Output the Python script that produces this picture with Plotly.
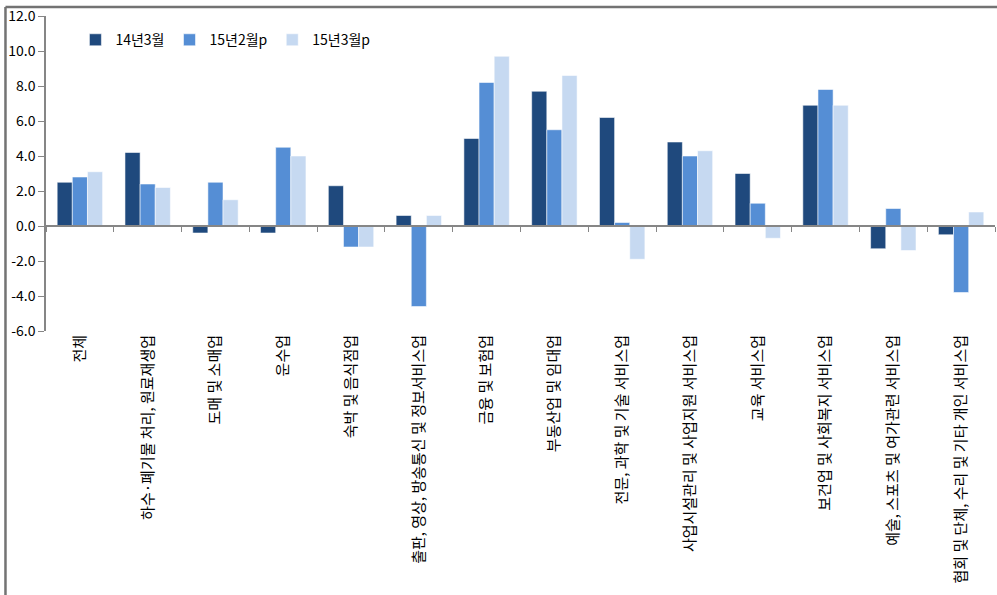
import plotly.graph_objects as go

# Industry categories (x axis)
categories = [
    "전체",
    "하수·폐기물 처리, 원료재생업",
    "도매 및 소매업",
    "운수업",
    "숙박 및 음식점업",
    "출판, 영상, 방송통신 및 정보서비스업",
    "금융 및 보험업",
    "부동산업 및 임대업",
    "전문, 과학 및 기술 서비스업",
    "사업시설관리 및 사업지원 서비스업",
    "교육 서비스업",
    "보건업 및 사회복지 서비스업",
    "예술, 스포츠 및 여가관련 서비스업",
    "협회 및 단체, 수리 및 기타 개인 서비스업",
]

# Year-on-year change (%) per period
series_names = ["14년3월", "15년2월p", "15년3월p"]
mar_2014 = [2.5, 4.2, -0.4, -0.4, 2.3, 0.6, 5.0, 7.7, 6.2, 4.8, 3.0, 6.9, -1.3, -0.5]
feb_2015 = [2.8, 2.4, 2.5, 4.5, -1.2, -4.6, 8.2, 5.5, 0.2, 4.0, 1.3, 7.8, 1.0, -3.8]
mar_2015 = [3.1, 2.2, 1.5, 4.0, -1.2, 0.6, 9.7, 8.6, -1.9, 4.3, -0.7, 6.9, -1.4, 0.8]

# Y axis ticks
y_ticks = [12.0, 10.0, 8.0, 6.0, 4.0, 2.0, 0.0, -2.0, -4.0, -6.0]
y_min, y_max = -6.0, 12.0

colors = ["#1F497D", "#558ED5", "#C6D9F1"]
font_family = "Noto Sans CJK KR, DejaVu Sans, sans-serif"
axis_gray = "#868686"

fig = go.Figure()
for name, vals, col in zip(series_names, [mar_2014, feb_2015, mar_2015], colors):
    fig.add_trace(go.Bar(
        name=name,
        x=categories,
        y=vals,
        marker=dict(color=col, line=dict(color="rgba(255,255,255,0.55)", width=1)),
        hoverinfo="x+y+name",
    ))

# empty helper trace so the bottom label axis is instantiated
fig.add_trace(go.Scatter(
    x=list(range(len(categories))),
    y=[None] * len(categories),
    xaxis="x2",
    yaxis="y",
    mode="markers",
    showlegend=False,
    hoverinfo="skip",
))

zero_pos = (0 - y_min) / (y_max - y_min)

fig.update_layout(
    width=997,
    height=595,
    margin=dict(l=46, r=2, t=16, b=264),
    paper_bgcolor="white",
    plot_bgcolor="white",
    barmode="group",
    bargap=0.33,
    bargroupgap=0,
    font=dict(family=font_family, size=13, color="#000000"),
    legend=dict(
        orientation="h",
        x=0.031,
        y=0.974,
        xanchor="left",
        yanchor="top",
        font=dict(size=14),
        bgcolor="rgba(0,0,0,0)",
        itemwidth=30,
    ),
    # category axis carrying the bars: line and boundary ticks at y = 0
    xaxis=dict(
        type="category",
        categoryorder="array",
        categoryarray=categories,
        range=[-0.5, len(categories) - 0.5],
        anchor="free",
        position=zero_pos,
        showline=True,
        linecolor=axis_gray,
        linewidth=1.5,
        ticks="outside",
        tickson="boundaries",
        ticklen=5,
        tickcolor=axis_gray,
        tickwidth=1,
        showticklabels=False,
        showgrid=False,
        zeroline=False,
    ),
    # label axis along the bottom edge of the plot area
    xaxis2=dict(
        overlaying="x",
        anchor="y",
        side="bottom",
        type="linear",
        range=[-0.5, len(categories) - 0.5],
        tickmode="array",
        tickvals=list(range(len(categories))),
        ticktext=categories,
        tickangle=-90,
        showline=False,
        ticks="",
        showgrid=False,
        zeroline=False,
        tickfont=dict(size=15, color="#000000"),
        automargin=False,
    ),
    yaxis=dict(
        range=[y_min, y_max],
        tickmode="array",
        tickvals=y_ticks,
        ticktext=[f"{v:.1f}" for v in y_ticks],
        showline=True,
        linecolor=axis_gray,
        linewidth=1.5,
        ticks="outside",
        ticklen=6,
        tickcolor=axis_gray,
        showgrid=False,
        zeroline=False,
        tickfont=dict(size=14, color="#000000"),
        automargin=False,
    ),
    shapes=[
        # chart frame: top and left edges
        dict(type="line", xref="paper", yref="paper",
             x0=-0.0427, x1=1.01, y0=1.0286, y1=1.0286,
             line=dict(color="#737373", width=2.5)),
        dict(type="line", xref="paper", yref="paper",
             x0=-0.0427, x1=-0.0427, y0=1.0286, y1=-0.9,
             line=dict(color="#737373", width=2.5)),
    ],
)

fig.write_html("out.html")
